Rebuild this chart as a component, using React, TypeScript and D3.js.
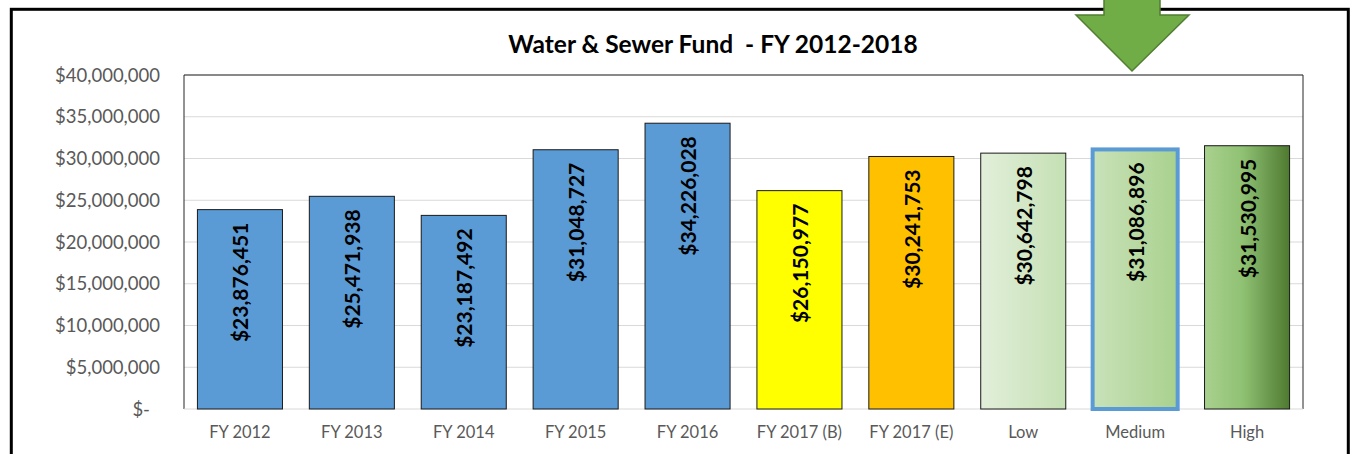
import * as d3 from "d3";

const categories = [
  "FY 2012", "FY 2013", "FY 2014", "FY 2015", "FY 2016",
  "FY 2017 (B)", "FY 2017 (E)", "Low", "Medium", "High",
];
const values = [
  23876451, 25471938, 23187492, 31048727, 34226028,
  26150977, 30241753, 30642798, 31086896, 31530995,
];
const yTicks = [0, 5000000, 10000000, 15000000, 20000000, 25000000, 30000000, 35000000, 40000000];
const title = "Water & Sewer Fund \u00a0- FY 2012-2018";

// fills per bar (gradients for the scenario bars)
const barFills = [
  "#5B9BD5", "#5B9BD5", "#5B9BD5", "#5B9BD5", "#5B9BD5",
  "#FFFF00", "#FFC000", "url(#gLow)", "url(#gMed)", "url(#gHigh)",
];

const W = 1351;
const H = 454;
const margin = { left: 184, right: 48, top: 75, bottom: 45 };
const font = "Lato, 'Open Sans', sans-serif";

export default function App() {
  const x = d3.scaleBand<string>()
    .domain(categories)
    .range([margin.left, W - margin.right])
    .paddingInner(0.24)
    .paddingOuter(0.12);
  const y = d3.scaleLinear().domain([0, 40000000]).range([H - margin.bottom, margin.top]);
  const fmt = d3.format(",.0f");

  const x0 = margin.left;
  const x1 = W - margin.right;
  const yBase = y(0);

  return (
    <svg width={W} height={H} style={{ position: "absolute", left: 0, top: 0, background: "#fff" }}>
      <defs>
        <linearGradient id="gLow" x1="0" x2="1" y1="0" y2="0">
          <stop offset="0" stopColor="#E2EFDA" />
          <stop offset="1" stopColor="#C5E0B4" />
        </linearGradient>
        <linearGradient id="gMed" x1="0" x2="1" y1="0" y2="0">
          <stop offset="0" stopColor="#C9E2B9" />
          <stop offset="1" stopColor="#A9D18E" />
        </linearGradient>
        <linearGradient id="gHigh" x1="0" x2="1" y1="0" y2="0">
          <stop offset="0" stopColor="#A9D18E" />
          <stop offset="0.45" stopColor="#8FC173" />
          <stop offset="1" stopColor="#4E7A30" />
        </linearGradient>
      </defs>

      {/* outer frame */}
      <rect x={11.3} y={9.3} width={1337} height={460} fill="none" stroke="#000" strokeWidth={3} />

      <text x={713} y={53} textAnchor="middle" fontFamily={font} fontWeight="bold" fontSize={24.5} fill="#000">
        {title}
      </text>

      {/* gridlines */}
      {yTicks.slice(1).map((t) => (
        <line key={t} x1={x0} x2={x1} y1={y(t)} y2={y(t)} stroke="#D9D9D9" strokeWidth={1} />
      ))}

      {/* plot area border */}
      <path
        d={`M${x0},${yBase}V${margin.top}H${x1}V${yBase}`}
        fill="none"
        stroke="#262626"
        strokeWidth={1}
      />
      <line x1={x0} x2={x1} y1={yBase} y2={yBase} stroke="#D9D9D9" strokeWidth={1} />

      {/* y axis labels */}
      {yTicks.map((t) => (
        <text
          key={t}
          x={t === 0 ? 150 : 160}
          y={y(t) + 2}
          textAnchor="end"
          dominantBaseline="middle"
          fontFamily={font}
          fontSize={18.5}
          fill="#595959"
        >
          {t === 0 ? "$-" : "$" + fmt(t)}
        </text>
      ))}

      {/* bars */}
      {categories.map((c, i) => {
        const bx = x(c)!;
        const bw = x.bandwidth();
        const top = y(values[i]);
        const isMed = c === "Medium";
        return (
          <g key={c}>
            <rect
              x={bx}
              y={top}
              width={bw}
              height={yBase - top}
              fill={barFills[i]}
              stroke={isMed ? "#5B9BD5" : "#1a1a1a"}
              strokeWidth={isMed ? 4 : 1}
            />
            <text
              transform={`translate(${bx + bw / 2},${top + 13}) rotate(-90)`}
              textAnchor="end"
              dominantBaseline="central"
              fontFamily={font}
              fontWeight="bold"
              fontSize={21}
              fill="#000"
            >
              {"$" + fmt(values[i])}
            </text>
            <text
              x={bx + bw / 2}
              y={434}
              textAnchor="middle"
              dominantBaseline="middle"
              fontFamily={font}
              fontSize={16.5}
              fill="#595959"
            >
              {c}
            </text>
          </g>
        );
      })}

      {/* green arrow pointing at Medium */}
      <path
        d="M1104,-5H1160V15H1189L1132,71L1076,15H1104Z"
        fill="#70AD47"
        stroke="#507E32"
        strokeWidth={1.5}
      />
    </svg>
  );
}
